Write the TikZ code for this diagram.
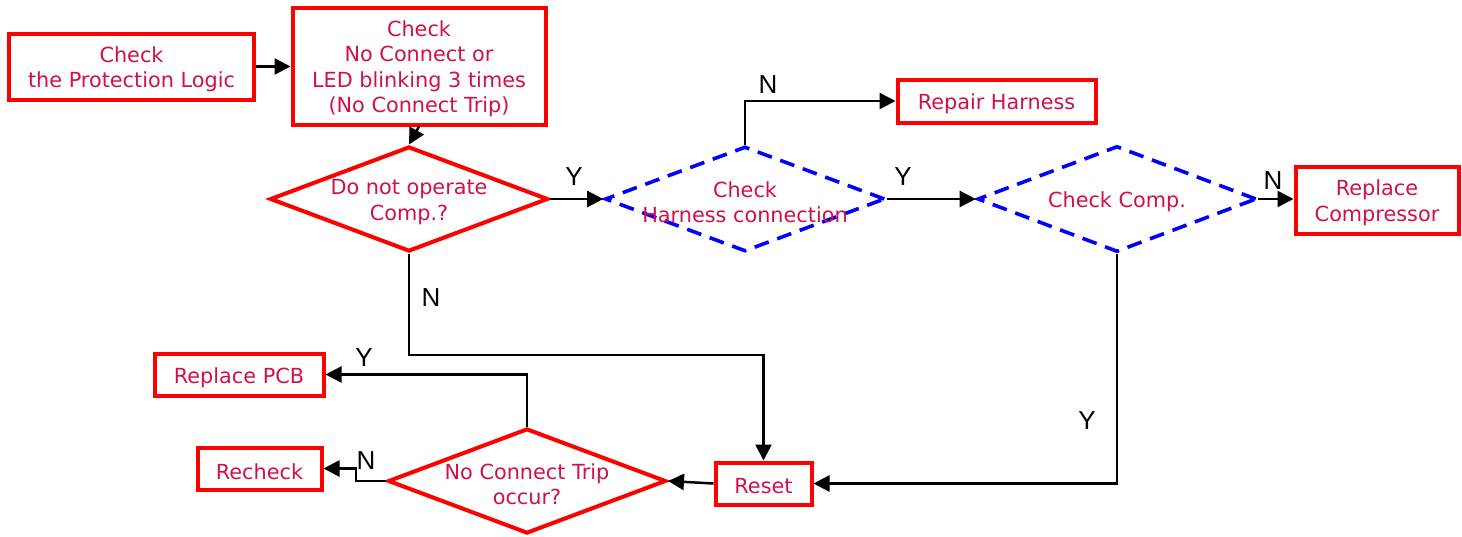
\documentclass[tikz,border=0pt]{standalone}
\usepackage{fontspec}
\setmainfont{DejaVu Sans}
\newfontfamily\yesno{Liberation Sans}
\usetikzlibrary{shapes.geometric,arrows.meta}
\definecolor{txtred}{RGB}{210,16,72}
\definecolor{boxred}{RGB}{255,0,0}
\definecolor{dashblue}{RGB}{0,0,255}
\tikzset{
  box/.style={draw=boxred,line width=4pt,rectangle,inner sep=0pt},
  dia/.style={draw=boxred,line width=4pt,diamond,inner sep=0pt},
  dashdia/.style={draw=dashblue,line width=3.6pt,diamond,inner sep=0pt,dash pattern=on 15pt off 9pt},
  dtext/.style={text=txtred,align=center,font=\fontsize{20.8}{25.5}\selectfont,inner sep=0pt,yshift=-3pt},
  conn/.style={draw=black,line width=2.5pt,-{Triangle[length=16pt,width=16pt]}},
  yn/.style={font=\yesno\fontsize{26}{28}\selectfont,text=black,inner sep=0pt},
}
\begin{document}
\begin{tikzpicture}[x=1pt,y=-1pt]
\useasboundingbox (0,0) rectangle (1462,536);
% boxes
\node[box,minimum width=245pt,minimum height=66pt,label={[dtext]center:{Check\\the Protection Logic}}] (b1) at (131.5,66.5) {};
\node[box,minimum width=253pt,minimum height=117pt,label={[dtext]center:{Check\\No Connect or\\LED blinking 3 times\\(No Connect Trip)}}] (b2) at (419,66) {};
\node[box,minimum width=198pt,minimum height=43pt,label={[dtext]center:{Repair Harness}}] (rh) at (996.5,101) {};
\node[box,minimum width=163pt,minimum height=67pt,label={[dtext]center:{Replace\\Compressor}}] (rc) at (1377,200) {};
\node[box,minimum width=169pt,minimum height=42pt,label={[dtext]center:{Replace PCB}}] (rp) at (239,374.5) {};
\node[box,minimum width=124pt,minimum height=42pt,label={[dtext]center:{Recheck}}] (re) at (259.5,468.5) {};
\node[box,minimum width=96pt,minimum height=42pt,label={[dtext]center:{Reset}}] (rs) at (763.5,483.5) {};
% diamonds
\node[dia,minimum width=278pt,minimum height=105pt,label={[dtext]center:{Do not operate\\Comp.?}}] (d1) at (409,199) {};
\node[dashdia,minimum width=280pt,minimum height=105pt,label={[dtext]center:{Check\\Harness connection}}] (d2) at (745,199) {};
\node[dashdia,minimum width=279pt,minimum height=106pt,label={[dtext]center:{Check Comp.}}] (d3) at (1117,199) {};
\node[dia,minimum width=278pt,minimum height=105pt,label={[dtext]center:{No Connect Trip\\occur?}}] (d4) at (527,481) {};
% connectors
\draw[conn] (b1.east) -- (b2.west |- b1.east);
\draw[conn] (b2.south) -- (d1.north);
\draw[conn] (d1.east) -- (d2.west);
\draw[conn] (d2.north) |- (rh.west);
\draw[conn] (d2.east) -- (d3.west);
\draw[conn] (d3.east) -- (rc.west |- d3.east);
\draw[conn] (d3.south) |- (rs.east);
\coordinate (c1) at (409,355);
\draw[conn] (d1.south) -- (c1) -| (rs.north);
\draw[conn] (rs.west) -- (d4.east);
\draw[conn] (d4.north) |- (rp.east);
\coordinate (c2) at (356,481);
\draw[conn] (d4.west) -- (c2) |- (re.east);
% labels
\node[yn] (ly1) at (574,177) {Y};
\node[yn] (ln1) at (768,85) {N};
\node[yn] (ly2) at (903,177) {Y};
\node[yn] (ln2) at (1273,181) {N};
\node[yn] (ly3) at (1087,421) {Y};
\node[yn] (ln3) at (431,298) {N};
\node[yn] (ly4) at (364,358) {Y};
\node[yn] (ln4) at (366,461) {N};
\end{tikzpicture}
\end{document}
